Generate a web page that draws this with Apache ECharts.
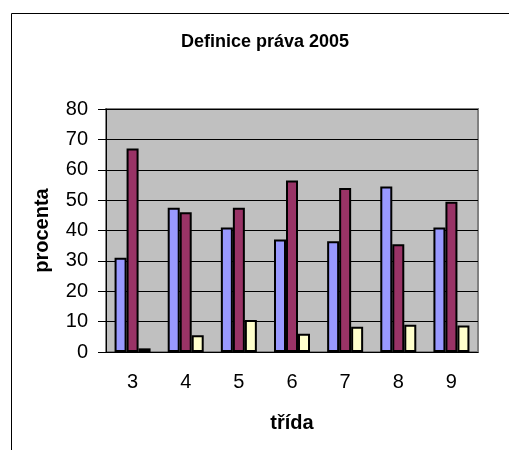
<!DOCTYPE html>
<html>
<head>
<meta charset="utf-8">
<script src="https://cdn.jsdelivr.net/npm/echarts@6/dist/echarts.min.js"></script>
<style>
  html, body { margin: 0; padding: 0; background: #fff; }
  #chart { width: 509px; height: 450px; }
</style>
</head>
<body>
<div id="chart"></div>
<script>
  // třídy (grades)
  var categories = ['3', '4', '5', '6', '7', '8', '9']
  var seriesA = [31, 47.5, 41, 37, 36.5, 54.5, 41]
  var seriesB = [67, 46, 47.5, 56.5, 54, 35.5, 49.5]
  var seriesC = [1.2, 5.5, 10.5, 6, 8.3, 9, 8.7]
  var yTicks = { min: 0, max: 80, interval: 10 }

  var chart = echarts.init(document.getElementById('chart'), null, { renderer: 'canvas' })

  function barSeries(name, data, color) {
    return {
      name: name,
      type: 'bar',
      data: data,
      barWidth: 12,
      barGap: '0%',
      itemStyle: { color: color, borderColor: '#000', borderWidth: 2 },
      animation: false
    }
  }

  chart.setOption({
    animation: false,
    textStyle: { fontFamily: 'Liberation Sans, Arial, sans-serif' },
    title: {
      text: 'Definice práva 2005',
      left: 176,
      top: 28,
      textStyle: { fontSize: 18, fontWeight: 'bold', color: '#000' }
    },
    graphic: [{
      type: 'rect',
      left: 9, top: 11,
      shape: { width: 620, height: 520 },
      style: { fill: 'none', stroke: '#000', lineWidth: 1 },
      silent: true
    }],
    grid: {
      left: 106, top: 109, right: 31, bottom: 98,
      show: true,
      backgroundColor: '#c0c0c0',
      borderColor: '#808080',
      borderWidth: 2
    },
    xAxis: {
      type: 'category',
      data: categories,
      name: 'třída',
      nameLocation: 'middle',
      nameGap: 61,
      nameTextStyle: { fontSize: 20, fontWeight: 'bold', color: '#000' },
      axisLine: { lineStyle: { color: '#000', width: 1 } },
      axisTick: { length: 6, lineStyle: { color: '#000' } },
      axisLabel: { fontSize: 20, color: '#000', margin: 20 }
    },
    yAxis: {
      type: 'value',
      min: yTicks.min,
      max: yTicks.max,
      interval: yTicks.interval,
      name: 'procenta',
      nameLocation: 'middle',
      nameGap: 54,
      nameRotate: 90,
      nameTextStyle: { fontSize: 20, fontWeight: 'bold', color: '#000' },
      axisLine: { show: true, lineStyle: { color: '#000', width: 1 } },
      axisTick: { show: true, length: 8, lineStyle: { color: '#000' } },
      axisLabel: { fontSize: 20, color: '#000', margin: 18 },
      splitLine: { lineStyle: { color: '#000', width: 1 } }
    },
    series: [
      barSeries('1', seriesA, '#9999ff'),
      barSeries('2', seriesB, '#993366'),
      barSeries('3', seriesC, '#ffffcc')
    ]
  })
</script>
</body>
</html>
